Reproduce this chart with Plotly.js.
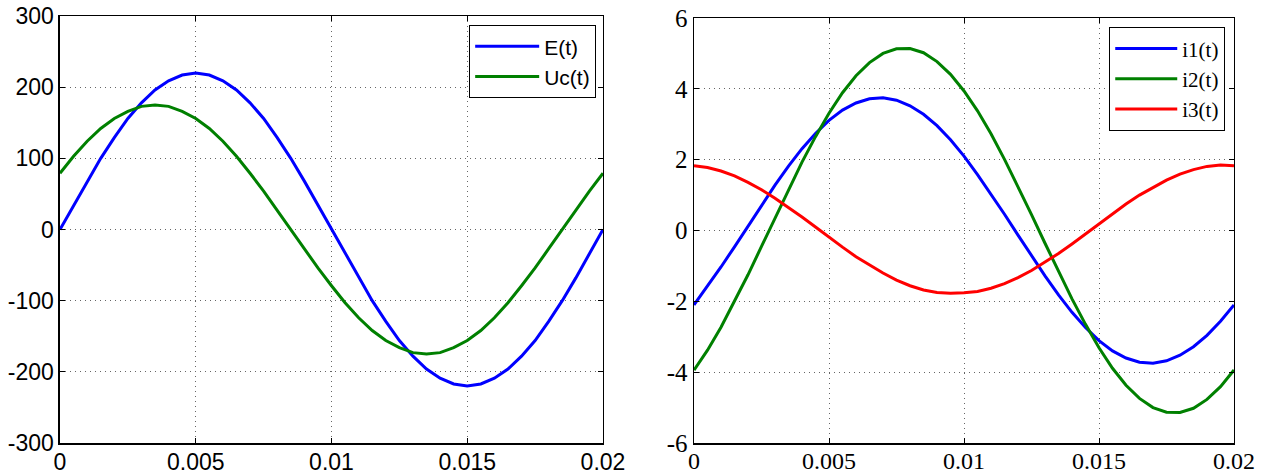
<!DOCTYPE html>
<html>
<head>
<meta charset="utf-8">
<script src="https://cdn.plot.ly/plotly-3.0.1.min.js"></script>
<style>html,body{margin:0;padding:0;background:#fff;}#chart{width:1273px;height:475px;}</style>
</head>
<body>
<div id="chart"></div>
<script>
// time samples (s)
var t = [0,0.0005,0.001,0.0015,0.002,0.0025,0.003,0.0035,0.004,0.0045,0.005,0.0055,0.006,0.0065,0.007,0.0075,0.008,0.0085,0.009,0.0095,0.01,0.0105,0.011,0.0115,0.012,0.0125,0.013,0.0135,0.014,0.0145,0.015,0.0155,0.016,0.0165,0.017,0.0175,0.018,0.0185,0.019,0.0195,0.02];

// left panel
var E = [0,34,68,100,129,156,178,196,209,217,220,217,209,196,178,156,129,100,68,34,0,-34,-68,-100,-129,-156,-178,-196,-209,-217,-220,-217,-209,-196,-178,-156,-129,-100,-68,-34,0];
var Uc = [79,103,124,142,156,166,173,175,173,166,156,142,124,103,79,54,27,0,-27,-54,-79,-103,-124,-142,-156,-166,-173,-175,-173,-166,-156,-142,-124,-103,-79,-54,-27,0,27,54,79];

// right panel
var i1 = [-2.10,-1.58,-1.03,-0.46,0.13,0.72,1.28,1.82,2.31,2.74,3.11,3.40,3.60,3.72,3.75,3.68,3.52,3.28,2.96,2.56,2.10,1.58,1.03,0.46,-0.13,-0.72,-1.28,-1.82,-2.31,-2.74,-3.11,-3.40,-3.60,-3.72,-3.75,-3.68,-3.52,-3.28,-2.96,-2.56,-2.10];
var i2 = [-3.94,-3.38,-2.73,-2.01,-1.25,-0.45,0.36,1.16,1.93,2.65,3.31,3.89,4.37,4.74,5.00,5.13,5.14,5.02,4.77,4.41,3.94,3.38,2.73,2.01,1.25,0.45,-0.36,-1.16,-1.93,-2.65,-3.31,-3.89,-4.37,-4.74,-5.00,-5.13,-5.14,-5.02,-4.77,-4.41,-3.94];
var i3 = [1.83,1.78,1.68,1.54,1.36,1.15,0.91,0.65,0.38,0.10,-0.19,-0.47,-0.74,-0.98,-1.20,-1.40,-1.56,-1.68,-1.75,-1.77,-1.76,-1.72,-1.63,-1.50,-1.33,-1.13,-0.90,-0.65,-0.38,-0.10,0.19,0.47,0.75,1.00,1.22,1.42,1.59,1.72,1.81,1.85,1.83];

// tick labels
var xTickVals = [0,0.005,0.01,0.015,0.02];
var xTickText = ['0','0.005','0.01','0.015','0.02'];
var yLTickVals = [-300,-200,-100,0,100,200,300];
var yLTickText = ['-300','-200','-100','0','100','200','300'];
var yRTickVals = [-6,-4,-2,0,2,4,6];
var yRTickText = ['-6','-4','-2','0','2','4','6'];

var sans = 'Liberation Sans, Arial, sans-serif';
var serif = 'Liberation Serif, Times New Roman, serif';

var traces = [
  {x:t, y:E, name:'E(t)', mode:'lines', line:{color:'#0000ff', width:3}, xaxis:'x', yaxis:'y', legend:'legend'},
  {x:t, y:Uc, name:'Uc(t)', mode:'lines', line:{color:'#008000', width:3}, xaxis:'x', yaxis:'y', legend:'legend'},
  {x:t, y:i1, name:'i1(t)', mode:'lines', line:{color:'#0000ff', width:3}, xaxis:'x2', yaxis:'y2', legend:'legend2'},
  {x:t, y:i2, name:'i2(t)', mode:'lines', line:{color:'#008000', width:3}, xaxis:'x2', yaxis:'y2', legend:'legend2'},
  {x:t, y:i3, name:'i3(t)', mode:'lines', line:{color:'#ff0000', width:3}, xaxis:'x2', yaxis:'y2', legend:'legend2'}
];

function ax(extra){
  var a = {
    showline:true, linecolor:'#000', linewidth:1.5, mirror:'ticks',
    ticks:'inside', ticklen:5, tickwidth:1, tickcolor:'#000',
    showgrid:true, gridcolor:'#666', griddash:'1px,4px', gridwidth:1,
    zeroline:false, tickmode:'array', fixedrange:true
  };
  for (var k in extra) a[k] = extra[k];
  return a;
}

var layout = {
  width:1273, height:475,
  margin:{l:0, r:0, t:16, b:32},
  paper_bgcolor:'#fff', plot_bgcolor:'#fff',
  showlegend:true,
  xaxis: ax({domain:[0.04713,0.47368], range:[0,0.02], tickvals:xTickVals, ticktext:xTickText, anchor:'y',
             tickfont:{family:sans, size:23, color:'#000'}, ticklabelstandoff:-2}),
  yaxis: ax({domain:[0,1], range:[-300,300], tickvals:yLTickVals, ticktext:yLTickText, anchor:'x',
             tickfont:{family:sans, size:23, color:'#000'}, ticklabelstandoff:0}),
  xaxis2: ax({domain:[0.54517,0.96936], range:[0,0.02], tickvals:xTickVals, ticktext:xTickText, anchor:'y2',
             tickfont:{family:serif, size:24, color:'#000'}, ticklabelstandoff:-4}),
  yaxis2: ax({domain:[0,0.9953], range:[-6,6], tickvals:yRTickVals, ticktext:yRTickText, anchor:'x2',
             tickfont:{family:serif, size:25, color:'#000'}, ticklabelstandoff:0}),
  legend: {x:0.3684, y:0.979, xanchor:'left', yanchor:'top', bgcolor:'#fff', bordercolor:'#000', borderwidth:1.2,
           font:{family:sans, size:21, color:'#000'}, itemwidth:64, tracegroupgap:0},
  legend2: {x:0.8712, y:0.974, xanchor:'left', yanchor:'top', bgcolor:'#fff', bordercolor:'#000', borderwidth:1.2,
           font:{family:serif, size:21, color:'#000'}, itemwidth:62, tracegroupgap:0}
};

Plotly.newPlot('chart', traces, layout, {displayModeBar:false, staticPlot:true});
</script>
</body>
</html>
